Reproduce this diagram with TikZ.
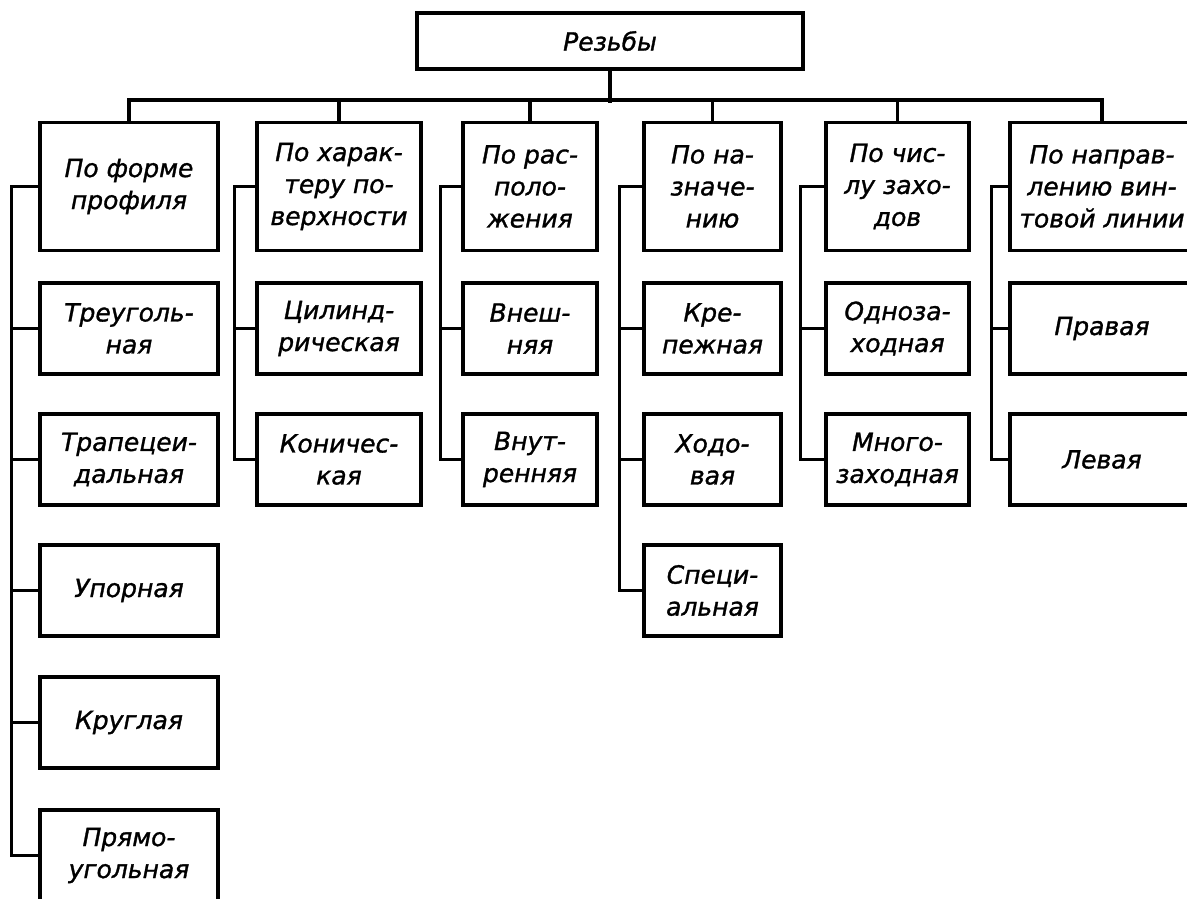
\documentclass[tikz,border=0pt]{standalone}
\usepackage{fontspec}
\setmainfont{DejaVu Sans}[ItalicFeatures={FakeBold=1.2}]
\begin{document}
\begin{tikzpicture}[x=1pt,y=1pt,
    box/.style={draw, line width=3.4pt, align=center, inner sep=2pt,
        font=\itshape\fontsize{25}{32}\selectfont},
    head/.style={box, minimum height=128pt},
    kind/.style={box, minimum height=91pt}]
    \useasboundingbox (0,0) rectangle (1187,-898);

    \node[box, minimum width=386pt, minimum height=56pt] (root) at (610,-41) {Резьбы};

    \node[head, minimum width=178pt] (h1) at (129,-186.5) {По форме\\профиля};
    \node[head, minimum width=164pt] (h2) at (339,-186.5) {По харак-\\теру по-\\верхности};
    \node[head, minimum width=134pt] (h3) at (530,-186.5) {По рас-\\поло-\\жения};
    \node[head, minimum width=137pt] (h4) at (712.5,-186.5) {По на-\\значе-\\нию};
    \node[head, minimum width=143pt] (h5) at (897.5,-186.5) {По чис-\\лу захо-\\дов};
    \node[head, minimum width=184pt] (h6) at (1102,-186.5) {По направ-\\лению вин-\\товой линии};

    \node[kind, minimum width=178pt] (a1) at (129,-328.5) {Треуголь-\\ная};
    \node[kind, minimum width=178pt] (a2) at (129,-459.5) {Трапецеи-\\дальная};
    \node[kind, minimum width=178pt] (a3) at (129,-590.5) {Упорная};
    \node[kind, minimum width=178pt] (a4) at (129,-722.5) {Круглая};
    \node[kind, minimum width=178pt] (a5) at (129,-855.5) {Прямо-\\угольная};

    \node[kind, minimum width=164pt] (b1) at (339,-328.5) {Цилинд-\\рическая};
    \node[kind, minimum width=164pt] (b2) at (339,-459.5) {Коничес-\\кая};

    \node[kind, minimum width=134pt] (c1) at (530,-328.5) {Внеш-\\няя};
    \node[kind, minimum width=134pt] (c2) at (530,-459.5) {Внут-\\ренняя};

    \node[kind, minimum width=137pt] (d1) at (712.5,-328.5) {Кре-\\пежная};
    \node[kind, minimum width=137pt] (d2) at (712.5,-459.5) {Ходо-\\вая};
    \node[kind, minimum width=137pt] (d3) at (712.5,-590.5) {Специ-\\альная};

    \node[kind, minimum width=143pt] (e1) at (897.5,-328.5) {Одноза-\\ходная};
    \node[kind, minimum width=143pt] (e2) at (897.5,-459.5) {Много-\\заходная};

    \node[kind, minimum width=184pt] (f1) at (1102,-328.5) {Правая};
    \node[kind, minimum width=184pt] (f2) at (1102,-459.5) {Левая};

    \begin{scope}[line width=3.4pt]
        \draw (root.south) -- ++(0,-32);
        \draw (h1.north) -- ++(0,21) -| (h6.north);
        \foreach \h in {h2,h3,h4,h5}
            \draw (\h.north) -- ++(0,21);

        \draw (h1.west) -- ++(-27,0) |- (a5.west);
        \foreach \k in {a1,a2,a3,a4}
            \draw (\k.west) -- ++(-27,0);
        \draw (h2.west) -- ++(-21,0) |- (b2.west);
        \draw (b1.west) -- ++(-21,0);
        \draw (h3.west) -- ++(-21,0) |- (c2.west);
        \draw (c1.west) -- ++(-21,0);
        \draw (h4.west) -- ++(-23,0) |- (d3.west);
        \foreach \k in {d1,d2}
            \draw (\k.west) -- ++(-23,0);
        \draw (h5.west) -- ++(-24,0) |- (e2.west);
        \draw (e1.west) -- ++(-24,0);
        \draw (h6.west) -- ++(-17,0) |- (f2.west);
        \draw (f1.west) -- ++(-17,0);
    \end{scope}
\end{tikzpicture}
\end{document}
